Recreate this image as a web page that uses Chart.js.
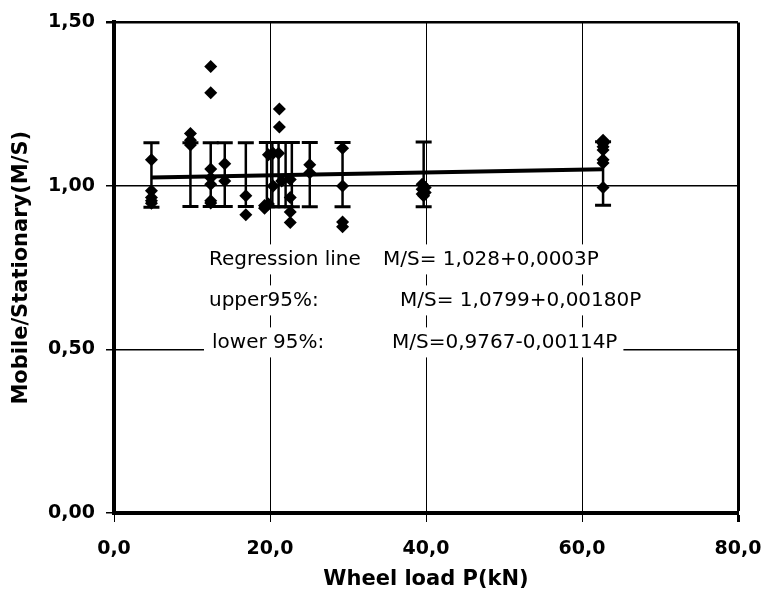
<!DOCTYPE html>
<html lang="en">
<head>
<meta charset="UTF-8">
<title>Mobile/Stationary ratio vs wheel load</title>
<script src="https://cdn.jsdelivr.net/npm/chart.js"></script>
<style>
  html, body { margin: 0; padding: 0; background: #fff; }
  #wrap { width: 764px; height: 593px; }
</style>
</head>
<body>
<div id="wrap"><canvas id="msChart" width="764" height="593"></canvas></div>
<script>
// measured pairs: wheel load P (kN) and mobile/stationary ratio
const loadP = [
  4.8, 4.8, 4.8, 4.8, 4.8,
  9.8, 9.8, 9.8,
  12.4, 12.4, 12.4, 12.4, 12.4, 12.4, 12.4,
  14.2, 14.2,
  16.9, 16.9,
  19.3, 19.3, 19.8, 19.8,
  20.4, 20.4,
  21.1, 21.2, 21.2, 21.5,
  22.6, 22.6, 22.6, 22.6,
  25.1, 25.1,
  29.3, 29.3, 29.3, 29.3,
  39.5, 39.5, 39.5, 39.7, 39.9, 39.9,
  62.7, 62.7, 62.7, 62.7, 62.7, 62.7, 62.7
];
const ratioMS = [
  1.08, 0.985, 0.965, 0.955, 0.947,
  1.16, 1.14, 1.125,
  1.365, 1.285, 1.052, 1.025, 1.005, 0.955, 0.948,
  1.068, 1.015,
  0.97, 0.912,
  0.94, 0.932, 0.945, 1.095,
  1.10, 1.0,
  1.10, 1.235, 1.18, 1.015,
  1.02, 0.965, 0.92, 0.888,
  1.065, 1.04,
  1.115, 1.0, 0.89, 0.875,
  1.005, 0.99, 0.975, 0.97, 0.995, 0.98,
  1.14, 1.13, 1.12, 1.11, 1.08, 1.07, 0.995
];

// 95% bars per load group
const barP = [4.8, 9.8, 12.4, 14.2, 16.9, 19.6, 20.3, 21.1, 22.0, 22.8, 25.1, 29.3, 39.7, 62.7];
const barLow = [0.935, 0.937, 0.937, 0.937, 0.937, 0.936, 0.936, 0.936, 0.936, 0.936, 0.936, 0.936, 0.936, 0.941];
const barHigh = [1.132, 1.132, 1.132, 1.132, 1.132, 1.133, 1.133, 1.133, 1.133, 1.133, 1.133, 1.133, 1.134, 1.135];

// regression line end points
const regP = [4.8, 62.7];
const regMS = [1.026, 1.051];

const xTicks = [0, 20, 40, 60, 80];
const yTicks = [0, 0.5, 1.0, 1.5];

const noteLabels = ["Regression line", "upper95%:", "lower 95%:"];
const noteFormulas = ["M/S= 1,028+0,0003P", "M/S= 1,0799+0,00180P", "M/S=0,9767-0,00114P"];

Chart.defaults.font.family = "'DejaVu Sans', sans-serif";
Chart.defaults.color = "#000";

// vertical bars with caps, drawn from the scales
const errorBars = {
  id: "errorBars",
  beforeDatasetsDraw(chart) {
    const { ctx, scales: { x, y } } = chart;
    ctx.save();
    ctx.strokeStyle = "#000";
    barP.forEach((p, i) => {
      const px = x.getPixelForValue(p);
      const top = y.getPixelForValue(barHigh[i]);
      const bot = y.getPixelForValue(barLow[i]);
      ctx.lineWidth = 2.5;
      ctx.beginPath();
      ctx.moveTo(px, top);
      ctx.lineTo(px, bot);
      ctx.stroke();
      ctx.lineWidth = 3;
      ctx.beginPath();
      ctx.moveTo(px - 8, top); ctx.lineTo(px + 8, top);
      ctx.moveTo(px - 8, bot); ctx.lineTo(px + 8, bot);
      ctx.stroke();
    });
    ctx.restore();
  }
};

// the equation block, each row on its own white strip
const notes = {
  id: "notes",
  beforeDatasetsDraw(chart) {
    const { ctx, chartArea } = chart;
    const rowY = [237, 278, 320];
    const labelX = [95, 95, 98];
    const formulaX = [269, 286, 278];
    ctx.save();
    ctx.font = "20px 'DejaVu Sans'";
    ctx.textBaseline = "middle";
    noteLabels.forEach((label, i) => {
      const yy = chartArea.top + rowY[i];
      const fx = chartArea.left + formulaX[i];
      const w = ctx.measureText(noteFormulas[i]).width;
      ctx.fillStyle = "#fff";
      ctx.fillRect(chartArea.left + 90, yy - 15, fx + w + 6 - (chartArea.left + 90), 30);
      ctx.fillStyle = "#000";
      ctx.fillText(label, chartArea.left + labelX[i], yy);
      ctx.fillText(noteFormulas[i], fx, yy);
    });
    ctx.restore();
  }
};

const comma = (v, d) => v.toFixed(d).replace(".", ",");

new Chart(document.getElementById("msChart"), {
  type: "scatter",
  data: {
    datasets: [
      {
        type: "line",
        data: regP.map((p, i) => ({ x: p, y: regMS[i] })),
        borderColor: "#000",
        borderWidth: 4,
        pointRadius: 0,
        fill: false
      },
      {
        data: loadP.map((p, i) => ({ x: p, y: ratioMS[i] })),
        pointStyle: "rectRot",
        pointRadius: 6.5,
        backgroundColor: "#000",
        borderColor: "#000",
        borderWidth: 0
      }
    ]
  },
  options: {
    responsive: false,
    animation: false,
    layout: { padding: { left: 0, top: 21, right: 26, bottom: 0 } },
    plugins: { legend: { display: false }, tooltip: { enabled: false } },
    scales: {
      x: {
        type: "linear",
        min: 0,
        max: 80,
        afterFit(scale) {
          scale.height = 80;
          scale.paddingLeft = 0;
          scale.paddingRight = 0;
        },
        afterBuildTicks(scale) { scale.ticks = xTicks.map(v => ({ value: v })); },
        ticks: {
          padding: 16,
          font: { size: 19, weight: "bold" },
          callback: v => comma(v, 1)
        },
        grid: {
          color: "#000",
          lineWidth: c => (c.tick && c.tick.value === 80 ? 3 : 1),
          tickLength: 9
        },
        border: { color: "#000", width: 4 },
        title: {
          display: true,
          text: "Wheel load P(kN)",
          font: { size: 21, weight: "bold" },
          padding: { top: 0, bottom: 1 }
        }
      },
      y: {
        min: 0,
        max: 1.5,
        afterFit(scale) { scale.width = 114; },
        afterBuildTicks(scale) { scale.ticks = yTicks.map(v => ({ value: v })); },
        ticks: {
          padding: 11,
          font: { size: 19, weight: "bold" },
          callback: v => comma(v, 2)
        },
        grid: {
          color: "#000",
          lineWidth: c => (c.tick && c.tick.value === 1.5 ? 2.5 : 1.5),
          tickLength: 8
        },
        border: { color: "#000", width: 4 },
        title: {
          display: true,
          text: "Mobile/Stationary(M/S)",
          font: { size: 21, weight: "bold" },
          padding: { top: 9, bottom: 0 }
        }
      }
    }
  },
  plugins: [notes, errorBars]
});
</script>
</body>
</html>
